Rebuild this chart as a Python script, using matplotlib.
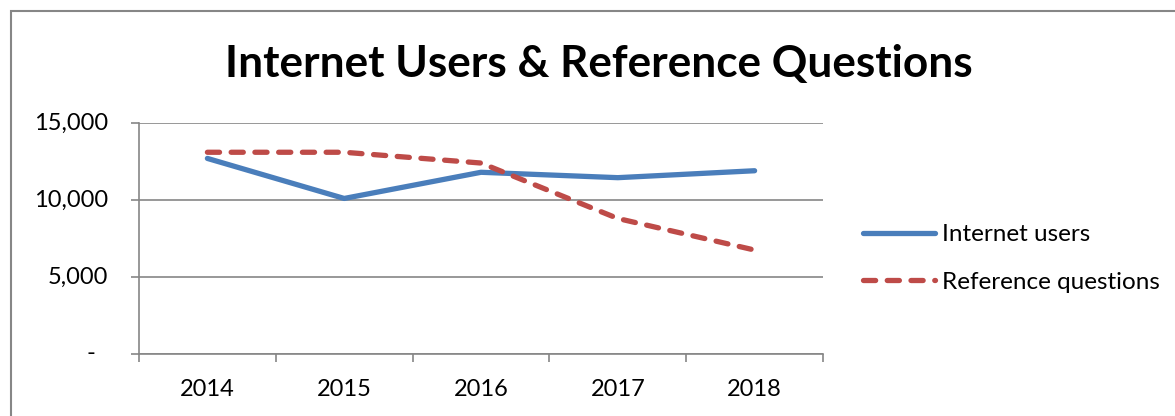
import matplotlib
matplotlib.use("Agg")
import matplotlib.pyplot as plt
from matplotlib.patches import Rectangle
from matplotlib.transforms import ScaledTranslation
import numpy as np

plt.rcParams['font.family'] = ['Lato', 'DejaVu Sans']

years = ["2014", "2015", "2016", "2017", "2018"]
internet_users = [12700, 10100, 11800, 11450, 11900]
reference_questions = [13100, 13100, 12400, 8800, 6750]
y_ticks = [0, 5000, 10000, 15000]
y_tick_labels = ["-", "5,000", "10,000", "15,000"]
title = "Internet Users & Reference Questions"
series_names = ["Internet users", "Reference questions"]

W, H = 1175, 416
fig = plt.figure(figsize=(W / 100, H / 100), dpi=100)
ax = fig.add_axes([139 / W, 1 - 354 / H, (823 - 139) / W, (354 - 123) / H])

grid_c = '#868686'
x = np.arange(len(years))
ax.plot(x, internet_users, color='#4A7EBB', lw=3.8, solid_capstyle='round',
        solid_joinstyle='round', label=series_names[0], zorder=3)
ax.plot(x, reference_questions, color='#BE4B48', lw=3.8, dash_capstyle='round',
        dashes=(2.3, 2.2), label=series_names[1], zorder=3)

ax.set_xlim(-0.5, len(years) - 0.5)
ax.set_ylim(0, 15000)
ax.set_yticks(y_ticks)
ax.set_yticklabels([])
ax.yaxis.grid(True, color=grid_c, lw=1.2)
ax.set_axisbelow(True)
ax.tick_params(axis='y', direction='out', length=6, width=1.2, color=grid_c)

ax.set_xticks(np.arange(-0.5, len(years)), labels=[])
ax.set_xticks(x, labels=years, minor=True)
ax.tick_params(axis='x', which='major', direction='out', length=6, width=1.2, color=grid_c)
ax.tick_params(axis='x', which='minor', length=0, pad=18, labelsize=17)

for s in ['top', 'right']:
    ax.spines[s].set_visible(False)
for s in ['left', 'bottom']:
    ax.spines[s].set_color(grid_c)
    ax.spines[s].set_linewidth(1.2)

# y tick labels (Excel accounting style: dash offset left)
ytrans = ax.get_yaxis_transform()
for v, lab in zip(y_ticks, y_tick_labels):
    dx = -31 / 100 if lab != "-" else -44 / 100
    t = ytrans + ScaledTranslation(dx, 0, fig.dpi_scale_trans)
    ax.text(0, v, lab, transform=t, ha='right', va='center', fontsize=17)

fig.text(599 / W, 1 - 77 / H, title, ha='center', va='baseline',
         fontsize=31.8, fontweight='bold')

ax.legend(loc='center left', bbox_to_anchor=(863 / W, 1 - 258.5 / H),
          bbox_transform=fig.transFigure, frameon=False, fontsize=17.5,
          handlelength=2.95, handletextpad=0.3, borderpad=0, borderaxespad=0,
          labelspacing=1.1)

fig.add_artist(Rectangle((11 / W, -0.1), 2, 1.1 - 11 / H, transform=fig.transFigure,
                         fill=False, ec=grid_c, lw=1.5))

fig.savefig('out.png', dpi=100)
